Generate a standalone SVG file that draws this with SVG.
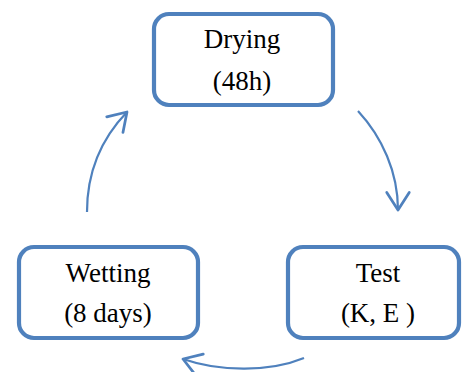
<svg xmlns="http://www.w3.org/2000/svg" width="462" height="372" viewBox="0 0 462 372">
<style>
.box{fill:#fff;stroke:#4F81BD;stroke-width:4.2}
.lbl{font-family:"Liberation Serif","Times New Roman",serif;font-size:27px;fill:#000;text-anchor:middle}
.conn{fill:none;stroke:#4F81BD;stroke-width:2.2}
</style>
<defs>
<marker id="ah" markerUnits="userSpaceOnUse" markerWidth="30" markerHeight="30" refX="0" refY="0" viewBox="-16 -12 20 24" orient="auto" overflow="visible">
<path d="M-14,-9 L0,0 L-14,9" fill="none" stroke="#4F81BD" stroke-width="2.2" stroke-linecap="round" stroke-linejoin="round"/>
</marker>
</defs>
<g id="connectors">
<path class="conn" d="M87,212 C87,175 100,140 127,112" marker-end="url(#ah)"/>
<path class="conn" d="M358,111 C382,137 398,172 398,210" marker-end="url(#ah)"/>
<path class="conn" d="M304,358 C270,372 220,372 183,359" marker-end="url(#ah)"/>
</g>
<g id="drying">
<rect class="box" x="154" y="14" width="179" height="91" rx="15"/>
<text class="lbl" x="242" y="48">Drying</text>
<text class="lbl" x="242" y="90">(48h)</text>
</g>
<g id="wetting">
<rect class="box" x="19" y="247" width="179" height="91" rx="15"/>
<text class="lbl" x="108" y="282">Wetting</text>
<text class="lbl" x="108" y="322">(8 days)</text>
</g>
<g id="test">
<rect class="box" x="288" y="247" width="171" height="91" rx="15"/>
<text class="lbl" x="378" y="282">Test</text>
<text class="lbl" x="378" y="322">(K, E )</text>
</g>
</svg>
